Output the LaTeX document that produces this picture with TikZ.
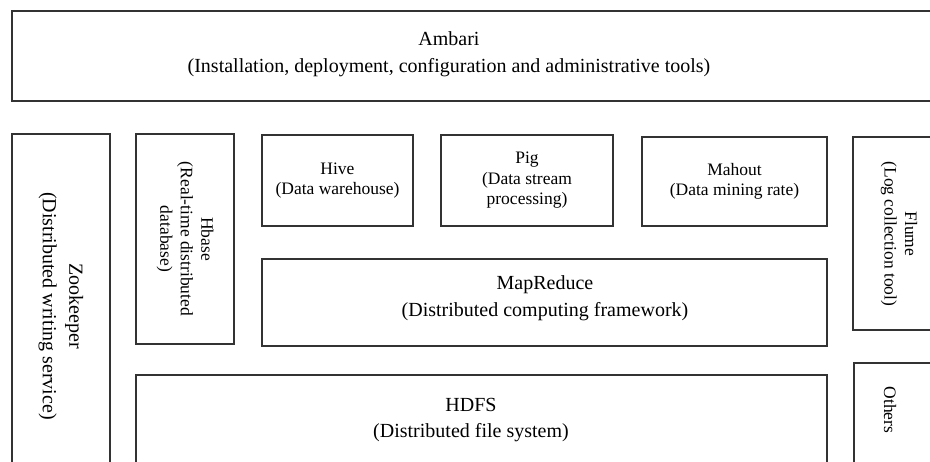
\documentclass[tikz,border=0pt]{standalone}
\usepackage{fontspec}
\setmainfont{Liberation Serif}
\begin{document}
\begin{tikzpicture}[x=1pt,y=-1pt,
  box/.style={draw=black!80, line width=1.2pt, inner sep=0pt, align=center},
  small/.style={font=\fontsize{17.5}{20.5}\selectfont},
  big/.style={font=\fontsize{20}{26.5}\selectfont},
  txt/.style={inner sep=0pt, align=center}]
\useasboundingbox (0,0) rectangle (930,461);
\clip (0,0) rectangle (930,461);
% top bar
\node[box, minimum width=933, minimum height=90] (ambari) at (478.5,56) {};
\node[txt, big] (ambaritxt) at (449,54) {Ambari\\(Installation, deployment, configuration and administrative tools)};
% left column
\node[box, big, rotate=-90, minimum width=344, minimum height=98] (zoo) at (61,306)
  {Zookeeper\\(Distributed writing service)};
\node[box, small, rotate=-90, minimum width=210, minimum height=98] (hbase) at (185,239)
  {Hbase\\(Real-time distributed\\database)};
% upper row
\node[box, small, minimum width=151, minimum height=91] (hive) at (337.5,180.5)
  {Hive\\(Data warehouse)};
\node[box, small, minimum width=172, minimum height=91] (pig) at (527,180.5)
  {Pig\\(Data stream\\processing)};
\node[box, small, minimum width=185, minimum height=89] (mahout) at (734.5,181.5)
  {Mahout\\(Data mining rate)};
% MapReduce
\node[box, minimum width=565, minimum height=87] (mapred) at (544.5,302.5) {};
\node[txt, big] (mapredtxt) at (545,298) {MapReduce\\(Distributed computing framework)};
% HDFS
\node[box, minimum width=691, minimum height=95] (hdfs) at (481.5,422.5) {};
\node[txt, big] (hdfstxt) at (471,420) {HDFS\\(Distributed file system)};
% right column
\node[box, minimum width=92, minimum height=193] (flume) at (899,233.5) {};
\node[txt, small, rotate=-90] (flumetxt) at (899,234) {Flume\\(Log collection tool)};
\node[box, minimum width=91, minimum height=107] (others) at (899.5,416.5) {};
\node[txt, small, rotate=-90] (otherstxt) at (890,410) {Others};
\end{tikzpicture}
\end{document}
